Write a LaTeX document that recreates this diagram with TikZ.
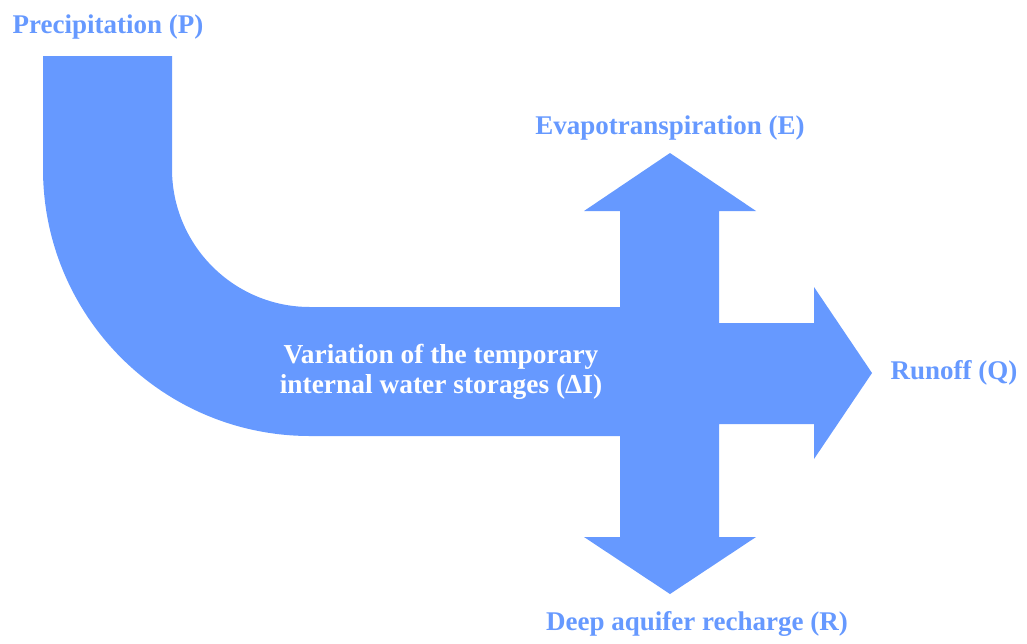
\documentclass[tikz,border=0pt]{standalone}
\usepackage{fontspec}
\setmainfont{Liberation Serif}
\definecolor{flowblue}{HTML}{6699FF}
\tikzset{
  flowlabel/.style={font=\fontsize{27}{31}\selectfont\bfseries, text=flowblue, inner sep=0pt, anchor=base},
  innerlabel/.style={font=\fontsize{27.4}{30}\selectfont\bfseries, text=white, inner sep=0pt, anchor=base, align=center}
}

\begin{document}
\begin{tikzpicture}[x=1pt,y=-1pt]
\useasboundingbox (0,0) rectangle (1027,643);
% bent pipe with the three outflow arrows
\fill[flowblue] (43,56) -- (172,56) -- (172,169) arc[start angle=180, end angle=90, radius=138]
  -- (620,307) -- (620,211) -- (584,211) -- (670,153) -- (756,211) -- (719,211) -- (719,323)
  -- (814,323) -- (814,287) -- (872,373) -- (814,459) -- (814,424) -- (719,424)
  -- (719,537) -- (756,537) -- (670,594) -- (584,537) -- (620,537) -- (620,436)
  -- (310,436) arc[start angle=90, end angle=180, radius=267] -- cycle;
\node[flowlabel] (precip) at (108,33) {Precipitation (P)};
\node[flowlabel] (evap) at (670,134) {Evapotranspiration (E)};
\node[flowlabel] (runoff) at (954,379) {Runoff (Q)};
\node[flowlabel] (recharge) at (697,630) {Deep aquifer recharge (R)};
\node[innerlabel] (storage) at (441,393) {Variation of the temporary\\internal water storages (ΔI)};
\end{tikzpicture}
\end{document}
